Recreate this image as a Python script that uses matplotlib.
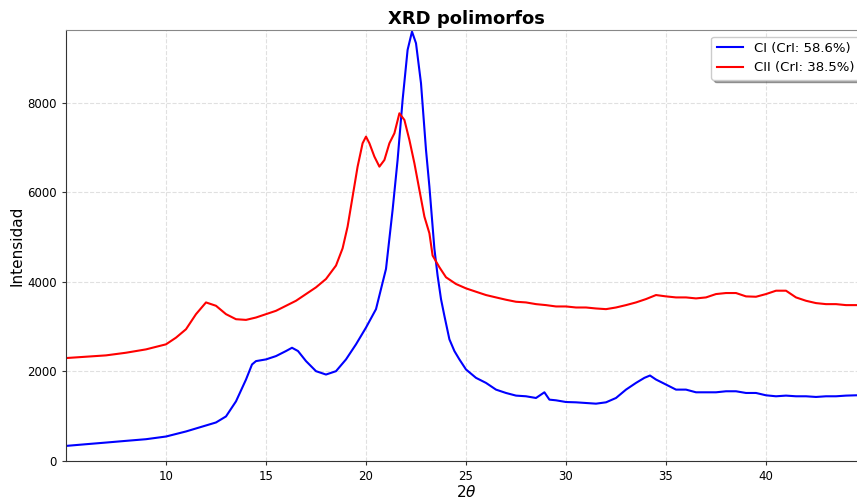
import matplotlib
matplotlib.use("Agg")
import matplotlib.pyplot as plt

# 2theta positions and intensities
ci_2theta = [5.0, 6.0, 7.0, 8.0, 9.0, 10.0, 11.0, 12.0, 12.5, 13.0, 13.5, 14.0, 14.3, 14.5,
             15.0, 15.5, 16.0, 16.3, 16.6, 17.0, 17.5, 18.0, 18.5, 19.0, 19.5, 20.0, 20.5,
             21.0, 21.33, 21.58, 21.83, 22.08, 22.3, 22.5, 22.75, 23.0, 23.17, 23.42, 23.58,
             23.75, 23.92, 24.17, 24.42, 24.67, 25.0, 25.5, 26.0, 26.5, 27.0, 27.5, 28.0,
             28.5, 28.92, 29.17, 29.5, 30.0, 30.5, 31.0, 31.5, 32.0, 32.5, 33.0, 33.5, 33.92,
             34.2, 34.5, 35.0, 35.5, 36.0, 36.5, 37.0, 37.5, 38.0, 38.5, 39.0, 39.5, 40.0,
             40.5, 41.0, 41.5, 42.0, 42.5, 43.0, 43.5, 44.0, 44.5, 45.0]
ci_int = [337, 375, 412, 450, 487, 547, 660, 794, 861, 996, 1333, 1820, 2157, 2232,
          2270, 2344, 2457, 2530, 2457, 2232, 2007, 1932, 2007, 2270, 2607, 2981, 3393,
          4292, 5609, 6726, 8067, 9185, 9594, 9334, 8440, 6950, 6131, 4741, 4142,
          3618, 3243, 2719, 2457, 2270, 2045, 1858, 1745, 1595, 1520, 1461, 1446,
          1408, 1535, 1371, 1356, 1318, 1311, 1296, 1281, 1311, 1408, 1595, 1745, 1858,
          1910, 1820, 1708, 1595, 1595, 1535, 1535, 1535, 1558, 1558, 1520, 1520, 1468,
          1446, 1461, 1446, 1446, 1431, 1446, 1446, 1461, 1468, 1470]

cii_2theta = [5.0, 6.0, 7.0, 8.0, 9.0, 10.0, 10.5, 11.0, 11.5, 12.0, 12.5, 13.0, 13.5, 14.0,
              14.5, 15.0, 15.5, 16.0, 16.5, 17.0, 17.5, 18.0, 18.5, 18.83, 19.08, 19.33,
              19.58, 19.83, 20.0, 20.17, 20.42, 20.67, 20.92, 21.17, 21.42, 21.67, 21.92,
              22.17, 22.42, 22.67, 22.92, 23.17, 23.33, 23.67, 24.0, 24.5, 25.0, 25.5, 26.0,
              26.5, 27.0, 27.5, 28.0, 28.5, 29.0, 29.5, 30.0, 30.5, 31.0, 31.5, 32.0, 32.5,
              33.0, 33.5, 34.0, 34.5, 35.0, 35.5, 36.0, 36.5, 37.0, 37.5, 38.0, 38.5, 39.0,
              39.5, 40.0, 40.5, 41.0, 41.5, 42.0, 42.5, 43.0, 43.5, 44.0, 44.5, 45.0]
cii_int = [2300, 2330, 2360, 2419, 2494, 2607, 2756, 2944, 3281, 3543, 3468, 3281, 3168, 3153,
           3206, 3281, 3356, 3468, 3580, 3730, 3880, 4067, 4367, 4752, 5237, 5907,
           6577, 7099, 7248, 7099, 6801, 6577, 6726, 7099, 7323, 7769, 7620,
           7173, 6652, 6056, 5460, 5088, 4591, 4329, 4105, 3955, 3857, 3782, 3708,
           3655, 3603, 3558, 3543, 3505, 3483, 3453, 3453, 3430, 3430, 3408, 3393, 3430,
           3483, 3543, 3618, 3708, 3678, 3655, 3655, 3633, 3655, 3730, 3753, 3753, 3678,
           3670, 3730, 3805, 3805, 3655, 3580, 3528, 3505, 3505, 3483, 3483, 3480]

labels = ["CI (CrI: 58.6%)", "CII (CrI: 38.5%)"]

fig = plt.figure(figsize=(8.57, 5.0), dpi=100)
ax = fig.add_axes([66 / 857, 39 / 500, 800 / 857, 431 / 500])

ax.plot(ci_2theta, ci_int, color="blue", lw=1.5, label=labels[0])
ax.plot(cii_2theta, cii_int, color="red", lw=1.5, label=labels[1])

ax.set_xlim(5, 45)
ax.set_ylim(0, 9630)
ax.set_xticks([10, 15, 20, 25, 30, 35, 40])
ax.set_yticks([0, 2000, 4000, 6000, 8000])
ax.tick_params(labelsize=8.5, length=3, color="#333333")
ax.set_xlabel(r"$2\theta$", fontsize=11, labelpad=0.5)
ax.set_ylabel("Intensidad", fontsize=11, labelpad=2)
ax.set_title("XRD polimorfos", fontsize=13, fontweight="bold", pad=4)
ax.grid(True, linestyle="--", alpha=0.6, color="#cccccc")
ax.spines["top"].set_color("#888888")
ax.spines["left"].set_color("#333333")
ax.spines["bottom"].set_color("#333333")
ax.legend(loc="upper right", shadow=True, fontsize=9.5)

fig.savefig("out.png", dpi=100)
